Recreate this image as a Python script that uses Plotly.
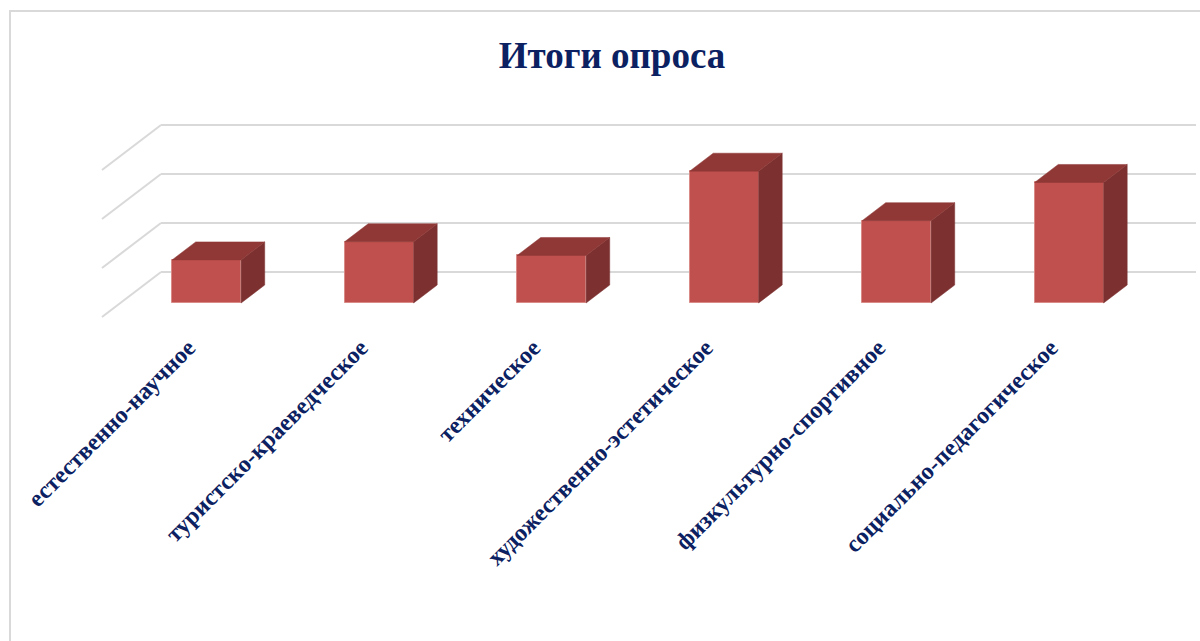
import plotly.graph_objects as go

# ---- data ----
categories = [
    "естественно-научное",
    "туристско-краеведческое",
    "техническое",
    "художественно-эстетическое",
    "физкультурно-спортивное",
    "социально-педагогическое",
]
values = [8.8, 12.5, 9.7, 26.9, 16.8, 24.6]
grid_values = [0, 10, 20, 30]
title_text = "Итоги опроса"

# ---- projection / style parameters ----
W, H = 1200, 641
WALL_LEFT_PX = 161.0      # back wall left edge (px)
SLOT_PX = 172.5           # px per category slot
ZERO_PX = 272.0           # back-wall zero line (px from top)
PX_PER_UNIT = 4.9         # px per value unit
DEPTH_DX_PX, DEPTH_DY_PX = -59.0, 45.0   # back wall -> front edge offset
DX = DEPTH_DX_PX / SLOT_PX
DY = -DEPTH_DY_PX / PX_PER_UNIT
D_FRONT, D_BACK = 31 / 45, 13 / 45
BAR_W = 0.4

FRONT_C = "#C0504D"
TOP_C = "#8F3836"
SIDE_C = "#7C3130"
GRID_C = "#D9D9D9"
NAVY = "#0B2161"
FONT = "Liberation Serif"

xrange_ = [(0 - WALL_LEFT_PX) / SLOT_PX, (W - WALL_LEFT_PX) / SLOT_PX]
yrange_ = [(ZERO_PX - H) / PX_PER_UNIT, ZERO_PX / PX_PER_UNIT]

n = len(categories)
fig = go.Figure()

# back wall gridlines + side wall diagonals (below the traces)
shapes = []
for g in grid_values:
    shapes.append(dict(type="line", xref="x", yref="y", layer="below",
                       x0=0, y0=g, x1=n, y1=g,
                       line=dict(color=GRID_C, width=2)))
    shapes.append(dict(type="line", xref="x", yref="y", layer="below",
                       x0=DX, y0=g + DY, x1=0, y1=g,
                       line=dict(color=GRID_C, width=2)))
shapes.append(dict(type="rect", xref="paper", yref="paper",
                   x0=10 / W, x1=1.1, y0=-0.1, y1=1 - 11 / H,
                   line=dict(color=GRID_C, width=2), fillcolor="rgba(0,0,0,0)"))

# front faces
fig.add_trace(go.Bar(
    x=[i + 0.5 + D_FRONT * DX for i in range(n)],
    y=values,
    base=[D_FRONT * DY] * n,
    width=BAR_W,
    marker=dict(color=FRONT_C, line=dict(color="#D98B88", width=1)),
    hovertext=categories, hoverinfo="text+y",
    showlegend=False,
))

# side and top faces
sx, sy, tx, ty = [], [], [], []
for i, v in enumerate(values):
    xl = i + 0.5 - BAR_W / 2
    xr = i + 0.5 + BAR_W / 2
    sx += [xr + D_FRONT * DX, xr + D_FRONT * DX, xr + D_BACK * DX, xr + D_BACK * DX, xr + D_FRONT * DX, None]
    sy += [D_FRONT * DY, v + D_FRONT * DY, v + D_BACK * DY, D_BACK * DY, D_FRONT * DY, None]
    tx += [xl + D_FRONT * DX, xr + D_FRONT * DX, xr + D_BACK * DX, xl + D_BACK * DX, xl + D_FRONT * DX, None]
    ty += [v + D_FRONT * DY, v + D_FRONT * DY, v + D_BACK * DY, v + D_BACK * DY, v + D_FRONT * DY, None]

fig.add_trace(go.Scatter(x=sx, y=sy, mode="lines", fill="toself", fillcolor=SIDE_C,
                         line=dict(color=SIDE_C, width=0.5),
                         hoverinfo="skip", showlegend=False))
fig.add_trace(go.Scatter(x=tx, y=ty, mode="lines", fill="toself", fillcolor=TOP_C,
                         line=dict(color=TOP_C, width=0.5),
                         hoverinfo="skip", showlegend=False))

# category axis along the front floor edge
fig.add_trace(go.Scatter(x=[None], y=[None], xaxis="x2", showlegend=False, hoverinfo="skip"))

fig.update_layout(
    width=W, height=H,
    margin=dict(l=0, r=0, t=0, b=0),
    paper_bgcolor="white", plot_bgcolor="white",
    title=dict(text=f"<b>{title_text}</b>", x=612 / W, y=1 - 55 / H,
               xanchor="center", yanchor="middle",
               font=dict(family=FONT, size=37, color=NAVY)),
    xaxis=dict(range=xrange_, visible=False, fixedrange=True),
    yaxis=dict(range=yrange_, visible=False, fixedrange=True),
    xaxis2=dict(range=xrange_, overlaying="x", anchor="free",
                position=1 - 328 / H, side="bottom",
                tickmode="array",
                tickvals=[i + 0.5 + DX for i in range(n)],
                ticktext=[f"<b>{c}</b>" for c in categories],
                tickangle=-45, showgrid=False, zeroline=False, showline=False,
                ticks="", tickfont=dict(family=FONT, size=24, color=NAVY)),
    shapes=shapes,
    bargap=0,
)

fig.write_html("out.html", config={"displayModeBar": False},
               post_script="document.body.style.margin='0';")
